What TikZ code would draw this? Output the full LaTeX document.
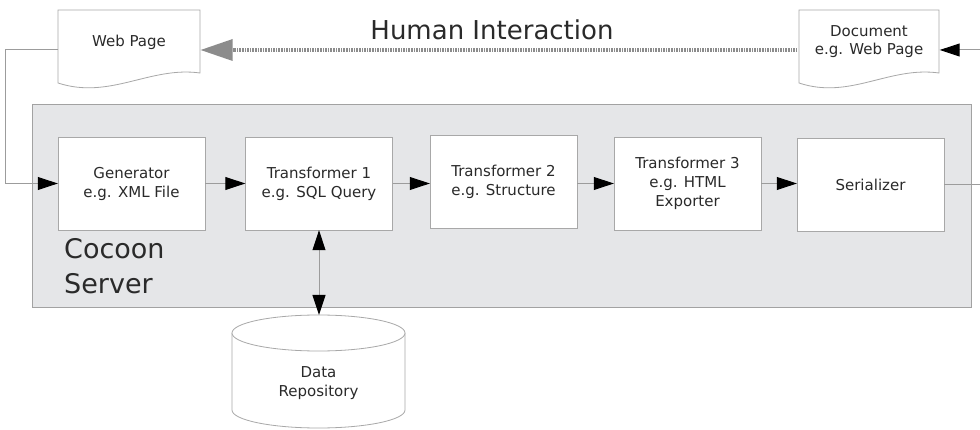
\documentclass[tikz,border=0pt]{standalone}
\usepackage{fontspec}
\setmainfont{DejaVu Sans}
\usetikzlibrary{arrows.meta,calc}
\definecolor{boxline}{HTML}{A8A8A8}
\definecolor{conline}{HTML}{9C9C9C}
\definecolor{panelfill}{HTML}{E5E6E8}
\definecolor{paneldraw}{HTML}{A2A2A2}
\definecolor{txt}{HTML}{2A2A2A}
\definecolor{dashgray}{HTML}{8C8C8C}
\tikzset{
  stagebox/.style={draw=boxline, fill=white, minimum width=147pt, minimum height=93pt,
    align=center, inner sep=0pt, text=txt, font=\fontsize{15}{19}\selectfont},
  docbox/.style={minimum width=141pt, minimum height=63pt, inner sep=0pt, align=center,
    text=txt, font=\fontsize{15}{18}\selectfont},
  docline/.style={draw=boxline, fill=white, line width=0.8pt},
  conn/.style={draw=conline, line width=1pt},
  blacktip/.style={-{Triangle[length=20pt,width=13pt,color=black]}},
  bothtips/.style={{Triangle[length=20pt,width=13pt,color=black]}-{Triangle[length=20pt,width=13pt,color=black]}},
  dashconn/.style={draw=dashgray, line width=4.5pt, dash pattern=on 1.6pt off 1pt,
    -{Triangle[length=32pt,width=22pt,color=dashgray,fill=dashgray,line width=0pt]}},
}
\begin{document}
\begin{tikzpicture}[x=1pt,y=-1pt]
\useasboundingbox (0,0) rectangle (980,430);
\fill[white] (0,0) rectangle (980,430);

% panel
\node[draw=paneldraw, fill=panelfill, line width=0.9pt, minimum width=939pt, minimum height=203pt, inner sep=0pt] (panel) at (501.5,205.5) {};
\node[anchor=north west, align=left, inner sep=0pt, text=txt, font=\fontsize{27}{35}\selectfont] (cocoon) at (64,238) {Cocoon\\Server};

% stages
\node[stagebox] (gen) at (131.5,183.5) {Generator\\e.g. XML File};
\node[stagebox] (t1) at (319,183.5) {Transformer 1\\e.g. SQL Query};
\node[stagebox] (t2) at (503.5,182) {Transformer 2\\e.g. Structure};
\node[stagebox] (t3) at (687.5,183.5) {Transformer 3\\e.g. HTML\\Exporter};
\node[stagebox] (ser) at (870.5,184.5) {Serializer};

% document shapes
\draw[docline] (58,10) -- (200,10) -- (200,73) .. controls (150,66) and (110,100) .. (58,83) -- cycle;
\node[docbox] (web) at (129,42) {Web Page};
\draw[docline] (799,10) -- (939,10) -- (939,73) .. controls (889,66) and (850,100) .. (799,83) -- cycle;
\node[docbox] (doc) at (869,42) {Document\\e.g. Web Page};

% title
\node[text=txt, font=\fontsize{26}{30}\selectfont, inner sep=0pt] (hi) at (492,30) {Human Interaction};

% data repository cylinder
\draw[docline] (232,333) -- (232,410) arc[start angle=180,end angle=360,x radius=86.5pt,y radius=18pt] -- (405,333);
\draw[docline] (318.5,333) ellipse [x radius=86.5pt, y radius=18pt];
\node[align=center, inner sep=0pt, text=txt, font=\fontsize{15}{19}\selectfont] (db) at (318.5,383) {Data\\Repository};
\coordinate (dbtop) at (319,315);

% connectors
\draw[dashconn] ($(doc.west)+(-1,8)$) -- ($(web.east)+(1,8)$);
\coordinate (rin) at (980,50);
\draw[conn, blacktip] (rin) -- ($(doc.east)+(0,8)$);
\draw[conn, blacktip] ($(web.west)+(0,8)$) -- (5,50) |- (gen.west);
\draw[conn, blacktip] (gen.east) -- (t1.west);
\draw[conn, blacktip] (t1.east) -- (t1.east -| t2.west);
\draw[conn, blacktip] (t2.east |- t3.west) -- (t3.west);
\draw[conn, blacktip] (t3.east) -- (t3.east -| ser.west);
\coordinate (rout) at (980,184.5);
\draw[conn] (ser.east) -- (rout);
\draw[conn, bothtips] (t1.south) -- (dbtop);
\end{tikzpicture}
\end{document}
